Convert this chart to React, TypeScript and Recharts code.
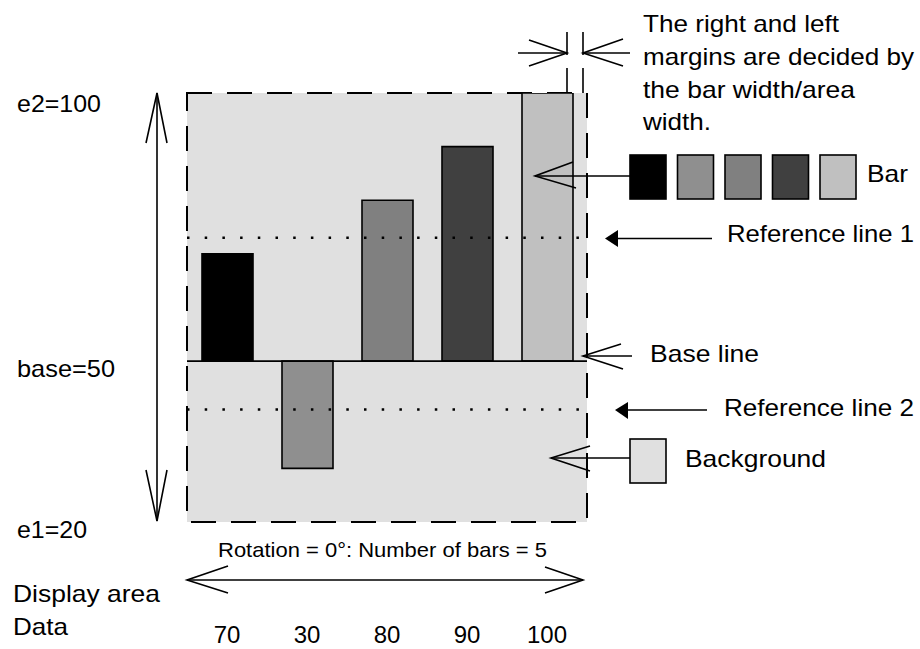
import { BarChart, Bar, Cell, XAxis, YAxis, CartesianGrid, ReferenceArea, ReferenceLine } from 'recharts';

// data shown under the chart ("Data" row) and the bar heights
const categories = ['70', '30', '80', '90', '100'];
const values = [70, 30, 80, 90, 100];
const barColors = ['#000000', '#8f8f8f', '#808080', '#404040', '#c0c0c0'];

// scale settings
const e1 = 20;
const e2 = 100;
const baseValue = 50;
const referenceLines = [73, 41];

const data = categories.map((label, i) => ({
  label,
  range: [Math.min(baseValue, values[i]), Math.max(baseValue, values[i])],
}));

const FONT = '"Liberation Sans", Arial, Helvetica, sans-serif';

type Note = { text: string; x: number; y: number; w: number; size: number };

const notes: Note[] = [
  { text: 'e2=100', x: 17, y: 112, w: 84, size: 24 },
  { text: 'base=50', x: 17, y: 377, w: 98, size: 24 },
  { text: 'e1=20', x: 17, y: 538, w: 70, size: 24 },
  { text: 'Display area', x: 13, y: 602, w: 147, size: 24 },
  { text: 'Data', x: 13, y: 635, w: 55, size: 24 },
  { text: 'Rotation = 0°: Number of bars = 5', x: 218, y: 557, w: 329, size: 21 },
  { text: 'The right and left', x: 643, y: 32, w: 196, size: 24 },
  { text: 'margins are decided by', x: 643, y: 65, w: 271, size: 24 },
  { text: 'the bar width/area', x: 643, y: 98, w: 212, size: 24 },
  { text: 'width.', x: 643, y: 130, w: 68, size: 24 },
  { text: 'Bar', x: 867, y: 182, w: 41, size: 24 },
  { text: 'Reference line 1', x: 727, y: 242, w: 187, size: 24 },
  { text: 'Base line', x: 650, y: 362, w: 109, size: 24 },
  { text: 'Reference line 2', x: 724, y: 416, w: 190, size: 24 },
  { text: 'Background', x: 685, y: 467, w: 141, size: 24 },
];

const DataTick = (props: any) => {
  const { x, payload } = props;
  return (
    <text x={x} y={643} textAnchor="middle" fontSize={24} fontFamily={FONT} fill="#000">
      {payload.value}
    </text>
  );
};

const Annotations = () => {
  const s = { stroke: '#000', strokeWidth: 1.6, fill: 'none' };
  return (
    <svg
      width={920}
      height={649}
      style={{ position: 'absolute', left: 0, top: 0, pointerEvents: 'none' }}
    >
      {/* vertical e1..e2 arrow */}
      <line x1={157} y1={93} x2={157} y2={521} {...s} />
      <polyline points="146,143 157,93 167,143" {...s} />
      <polyline points="146,470 157,521 167,470" {...s} />

      {/* horizontal display area arrow */}
      <line x1={187} y1={580} x2={583} y2={580} {...s} />
      <polyline points="228,566 187,580 228,593" {...s} />
      <polyline points="545,567 583,580 545,593" {...s} />

      {/* margin marker */}
      <line x1={567} y1={32} x2={567} y2={55} {...s} />
      <line x1={567} y1={68} x2={567} y2={93} {...s} />
      <line x1={583} y1={32} x2={583} y2={55} {...s} />
      <line x1={583} y1={68} x2={583} y2={93} {...s} />
      <line x1={518} y1={53} x2={567} y2={53} {...s} />
      <polyline points="529,40 567,53 529,66" {...s} />
      <line x1={583} y1={53} x2={630} y2={53} {...s} />
      <polyline points="623,39 583,53 623,66" {...s} />

      {/* bar legend */}
      {barColors.map((c, i) => (
        <rect key={c + i} x={630 + i * 47.5} y={155} width={36} height={44} fill={c} stroke="#000" strokeWidth={1.6} />
      ))}
      <line x1={535} y1={176} x2={630} y2={176} {...s} />
      <polyline points="573,162 535,176 576,188" {...s} />

      {/* reference line 1 */}
      <line x1={615} y1={238.5} x2={712} y2={238.5} {...s} />
      <polygon points="605,238.5 618,230 618,247" fill="#000" />

      {/* base line */}
      <line x1={583} y1={356} x2={632} y2={356} {...s} />
      <polyline points="621,344 583,356 623,369" {...s} />

      {/* reference line 2 */}
      <line x1={625} y1={410} x2={707} y2={410} {...s} />
      <polygon points="615,410 628,402 628,419" fill="#000" />

      {/* background */}
      <line x1={551} y1={458} x2={630} y2={458} {...s} />
      <polyline points="590,446 551,458 590,471" {...s} />
      <rect x={630} y={439} width={36} height={44} fill="#e0e0e0" stroke="#000" strokeWidth={1.6} />

      {notes.map((n) => (
        <text
          key={n.text}
          x={n.x}
          y={n.y}
          fontSize={n.size}
          fontFamily={FONT}
          fill="#000"
          textLength={n.w}
          lengthAdjust="spacingAndGlyphs"
        >
          {n.text}
        </text>
      ))}
    </svg>
  );
};

export default function App() {
  return (
    <div style={{ position: 'absolute', left: 0, top: 0, width: 920, height: 649, background: '#fff' }}>
      <BarChart
        width={920}
        height={649}
        data={data}
        margin={{ top: 93, right: 333, bottom: 97, left: 187 }}
        barCategoryGap={0}
      >
        <CartesianGrid horizontal={false} vertical={false} fill="#e0e0e0" />
        <XAxis dataKey="label" axisLine={false} tickLine={false} interval={0} height={30} tick={<DataTick />} />
        <YAxis hide type="number" domain={[e1, e2]} allowDataOverflow />
        <Bar dataKey="range" barSize={51} stroke="#000" strokeWidth={1.6} isAnimationActive={false}>
          {data.map((d, i) => (
            <Cell key={d.label} fill={barColors[i]} />
          ))}
        </Bar>
        <ReferenceLine y={baseValue} stroke="#000" strokeWidth={1.6} />
        {referenceLines.map((v) => (
          <ReferenceLine key={v} y={v} stroke="#000" strokeWidth={2.5} strokeDasharray="2.5 15.2" />
        ))}
        <ReferenceArea
          y1={e1}
          y2={e2}
          fill="none"
          stroke="#000"
          strokeWidth={2}
          strokeDasharray="25 15"
        />
      </BarChart>
      <Annotations />
    </div>
  );
}
